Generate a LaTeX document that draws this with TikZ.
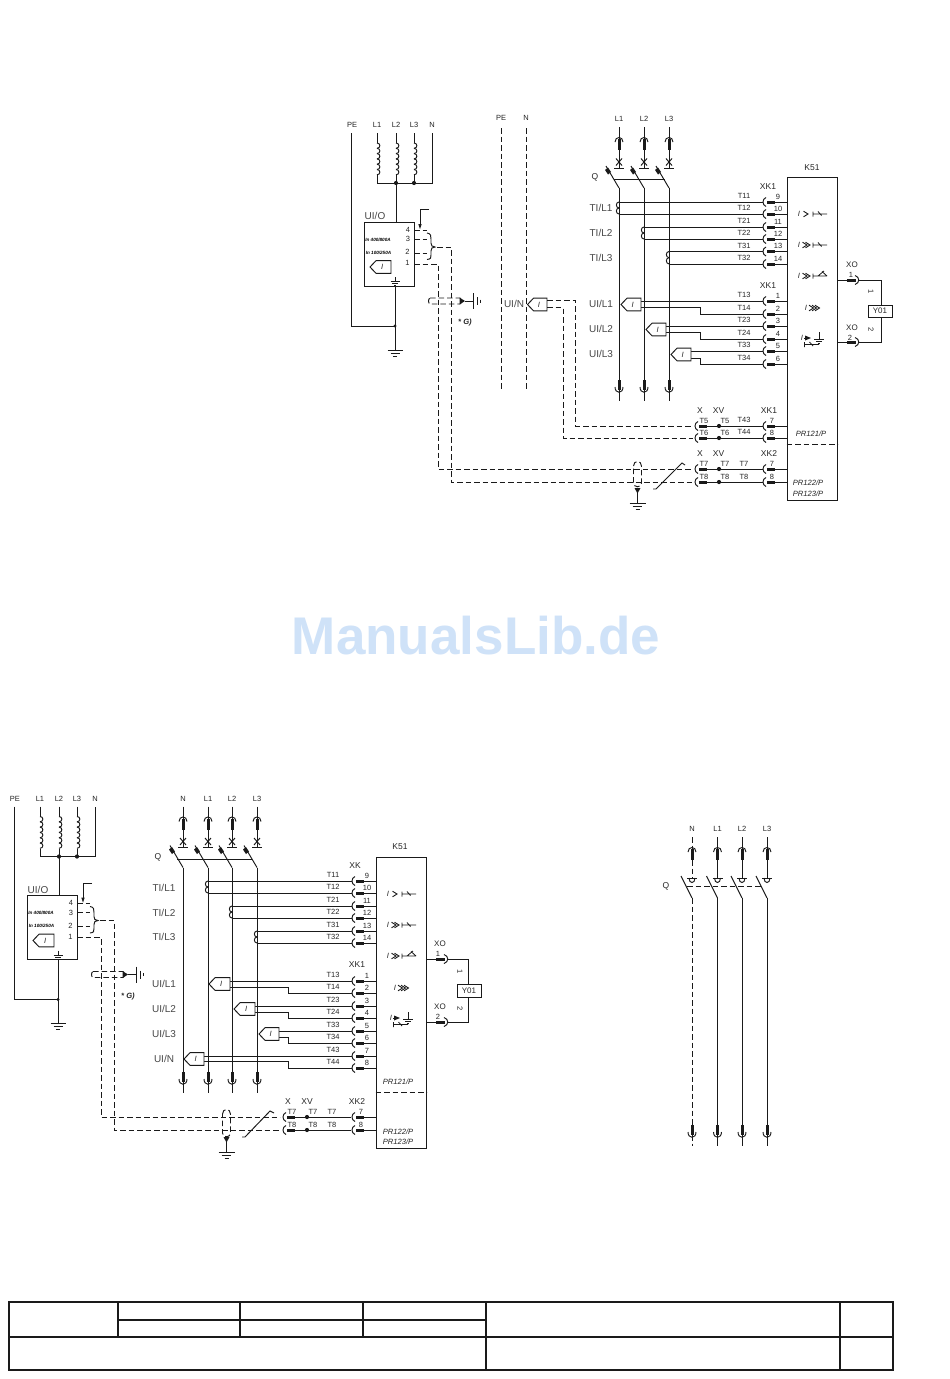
\documentclass[tikz,border=0pt]{standalone}
\usepackage{fontspec}
\setmainfont{Liberation Sans}
\definecolor{ink}{HTML}{1A1A1A}
\definecolor{txt}{HTML}{262626}
\definecolor{wm}{HTML}{CFE2F8}
\newcounter{nn}
\tikzset{
  wire/.style={draw=ink,line width=0.95pt},
  dwire/.style={draw=ink,line width=0.95pt,dash pattern=on 5.5pt off 3pt},
  thin wire/.style={draw=ink,line width=0.8pt},
  lab/.style={inner sep=0pt,text=txt,font=\fontsize{7.5}{7.5}\selectfont},
  labm/.style={inner sep=0pt,text=txt,font=\fontsize{8.5}{8.5}\selectfont},
  labb/.style={inner sep=0pt,text=txt!85,font=\fontsize{10}{10}\selectfont},
  labi/.style={inner sep=0pt,text=txt,font=\fontsize{7.6}{7.6}\selectfont\itshape},
  labt/.style={inner sep=0pt,text=black,font=\fontsize{4.6}{4.6}\selectfont\bfseries\itshape},
  boxn/.style={draw=ink,line width=1pt,inner sep=0pt,fill=white},
  sheet/.style={draw=ink,line width=1.9pt},
  sheetb/.style={draw=ink,line width=1.4pt},
}
% text node with an automatic name
\newcommand{\tx}[3]{\stepcounter{nn}\node[#1] (t\thenn) at (#2) {#3};}
% thick connector bars
\newcommand{\barH}[3]{\fill[ink] (#1,#2-1.5) rectangle (#3,#2+1.5);}
\newcommand{\barV}[3]{\fill[ink] (#1-1.5,#2) rectangle (#1+1.5,#3);}
% dot
\newcommand{\jd}[2]{\fill[ink] (#1,#2) circle (2.1pt);}
% coil: x, ytop, bump height, number of bumps, bulge (+right / -left)
\newcommand{\coil}[5]{\foreach \ci in {1,...,#4}{%
  \pgfmathsetmacro{\ya}{#2+(\ci-1)*#3}\pgfmathsetmacro{\yb}{#2+\ci*#3}%
  \draw[wire] (#1,\ya) .. controls (#1+#5,\ya) and (#1+#5,\yb) .. (#1,\yb);}}
% pentagon sensor: tip x, y, right x
\newcommand{\penta}[3]{%
  \draw[wire,fill=white] (#1,#2) -- (#1+6,#2-6.3) -- (#3,#2-6.3) -- (#3,#2+6.3) -- (#1+6,#2+6.3) -- cycle;
  \tx{labi}{#1+0.58*#3-0.58*#1,#2}{I}}
% terminal on a K51 input: arc x, y, from x, T label, number, number offset, box
\newcommand{\term}[7]{%
  \draw[wire] (#3,#2) -- (#1,#2);
  \draw[wire] (#1+3,#2-4.5) .. controls (#1-1,#2-3) and (#1-1,#2+3) .. (#1+3,#2+4.5);
  \barH{#1+4}{#2}{#1+12}
  \draw[wire] (#1+12,#2) -- (#7.west |- 0,#2);
  \tx{lab}{#1-19,#2-6}{#4}
  \tx{lab}{#1+#6,#2-5.5}{#5}}
% X terminal followed by XV dot
\newcommand{\xterm}[5]{%
  \draw[wire] (#1+3,#2-4.5) .. controls (#1-1,#2-3) and (#1-1,#2+3) .. (#1+3,#2+4.5);
  \barH{#1+4}{#2}{#1+12}
  \draw[wire] (#1+12,#2) -- (#1+68,#2);
  \jd{#1+24}{#2}
  \tx{lab}{#1+9,#2-5.5}{#3}
  \tx{lab}{#1+30,#2-5.5}{#4}
  \tx{lab}{#1+49,#2-5.5}{#5}}
% pole top: x, dy, label, style
\newcommand{\poleTop}[4]{%
  \tx{lab}{#1,#2+119}{#3}
  \draw[#4] (#1,#2+127) -- (#1,#2+139);
  \draw[wire] (#1-4,#2+142) .. controls (#1-4,#2+136) and (#1+4,#2+136) .. (#1+4,#2+142);
  \barV{#1}{#2+139}{#2+150}
  \draw[#4] (#1,#2+150) -- (#1,#2+168);}
\newcommand{\contactX}[2]{%
  \draw[wire] (#1-3,#2+158.5) -- (#1+3,#2+165.5) (#1-3,#2+165.5) -- (#1+3,#2+158.5);
  \draw[wire] (#1-5,#2+168) -- (#1+5,#2+168);
  \fill[ink] (#1-14,#2+170) -- (#1-11,#2+167.5) -- (#1-8,#2+172) -- (#1-11,#2+174.5) -- cycle;
  \draw[wire] (#1-13,#2+166) -- (#1,#2+188);}
\newcommand{\contactC}[2]{%
  \draw[wire] (#1-5,#2+168) -- (#1+5,#2+168);
  \draw[wire] (#1-3,#2+168) .. controls (#1-3,#2+174) and (#1+3,#2+174) .. (#1+3,#2+168);
  \draw[wire] (#1-11,#2+166) -- (#1,#2+188);}
% pole bottom: x, y from, y thick, style
\newcommand{\poleBot}[4]{%
  \draw[#4] (#1,#2) -- (#1,#3);
  \barV{#1}{#3}{#3+10}
  \draw[wire] (#1-4,#3+7) .. controls (#1-4,#3+14) and (#1+4,#3+14) .. (#1+4,#3+7);
  \draw[#4] (#1,#3+10) -- (#1,#3+21);}
% protection symbols
\newcommand{\chev}[2]{\draw[wire,line width=0.9pt] (#1,#2-2.8) -- (#1+4.5,#2) -- (#1,#2+2.8);}
\newcommand{\prI}[2]{\tx{labi}{#1,#2}{I}}
\newcommand{\cnt}[2]{%
  \draw[thin wire] (#1,#2-2.5) -- (#1,#2+2.5) (#1,#2) -- (#1+14,#2) (#1+5,#2-2.5) -- (#1+8.5,#2+1.5);}
\newcommand{\gnd}[4]{%
  \draw[wire] (#1-#4,#2) -- (#1+#4,#2);
  \draw[wire] (#1-0.6*#4,#2+#3) -- (#1+0.6*#4,#2+#3);
  \draw[wire] (#1-0.25*#4,#2+2*#3) -- (#1+0.25*#4,#2+2*#3);}
\newcommand{\protset}[3]{%
  \begin{scope}[shift={(#1,#2)}]
  \prI{799}{214}\chev{803.5}{214}\cnt{813}{214}
  \prI{799}{245}\chev{802.5}{245}\chev{805.5}{245}\cnt{813}{245}
  \prI{799}{276}\chev{802.5}{276}\chev{805.5}{276}
  \draw[thin wire] (813,273.5) -- (813,278.5) (813,276) -- (827,276) (818,276) -- (824,271) (822,271.5)--(827,276);
  \prI{806}{308}\chev{809}{308}\chev{812}{308}\chev{815}{308}
  \prI{802}{338}\fill[ink] (805,335.5) -- (811,338) -- (805,340.5) -- cycle; \draw[thin wire] (804,338)--(806,338);
  \draw[thin wire] (819,332) -- (819,339); \gnd{819}{339.5}{2}{5}
  \draw[thin wire] (804.5,342) -- (804.5,347) (804.5,344.5) -- (819,344.5) (809.5,342) -- (813,346);
  \end{scope}}
% source block
\newcommand{\source}{%
  \tx{lab}{352,125}{PE}
  \tx{lab}{377,125}{L1}\tx{lab}{396,125}{L2}\tx{lab}{414,125}{L3}\tx{lab}{432,125}{N}
  \draw[wire] (351,133) -- (351,326) -- (395,326);
  \foreach \cx in {377,396,414}{
    \draw[wire] (\cx,133) -- (\cx,143);
    \coil{\cx}{143}{5.3}{6}{3.8}
    \draw[wire] (\cx,175) -- (\cx,183);}
  \draw[wire] (377,183) -- (432,183) -- (432,133);
  \jd{396}{183}\jd{414}{183}
  \stepcounter{nn}
  \node[boxn,minimum width=50pt,minimum height=64pt] (ct\thenn) at (389,254) {};
  \draw[wire] (396,183) -- (ct\thenn.north -| 396,0);
  \draw[wire] (ct\thenn.south -| 395,0) -- (395,350);
  \fill[ink] (395,326) circle (1.6pt);
  \gnd{395}{350}{3}{7.5}
  \draw[wire] (395,277) -- (395,281.5);
  \gnd{395}{281.5}{2.2}{4.5}
  \tx{labb}{375,216}{UI/O}
  \tx{lab}{408,229.5}{4}\tx{lab}{408,239}{3}\tx{lab}{407.5,252}{2}\tx{lab}{407.5,263}{1}
  \tx{labt}{378,239.5}{In 400/800A}\tx{labt}{378.5,252.5}{In 100/250A}
  \penta{370}{267}{391}
  \draw[dwire] (414,230) -- (427,230);
  \draw[dwire] (414,239) -- (427,239);
  \draw[dwire] (414,253) -- (427,253);
  \draw[wire] (429,209.5) -- (420,209.5) -- (420,224);
  \fill[ink] (418.3,224) -- (421.7,224) -- (420,229) -- cycle;
  \draw[wire] (427,233) .. controls (431,233.5) and (431,236) .. (431,239) -- (431,243) .. controls (431,245.5) and (432,247) .. (435,247)
     .. controls (432,247) and (431,248.5) .. (431,251) -- (431,255) .. controls (431,258) and (431,259) .. (427,259.5);
  \draw[dwire] (430,298) -- (460,298) .. controls (462,299) and (462,303) .. (460,304) -- (430,304)
     .. controls (428,303) and (428,299) .. (430,298);
  \fill[ink] (459.5,297.5) -- (465,301) -- (459.5,304.5) -- cycle;
  \draw[wire] (465,301) -- (473,301);
  \draw[wire] (473,293) -- (473,309);
  \draw[wire] (477.5,297) -- (477.5,305);
  \draw[wire] (480.5,299.5) -- (480.5,302.5);
  \tx{labi}{465,323}{\bfseries * G)}}
\begin{document}
\begin{tikzpicture}[x=1pt,y=-1pt]
\useasboundingbox (0,0) rectangle (950,1379);
\fill[white] (0,0) rectangle (950,1379);

% === watermark
\node[inner sep=0pt,text=wm,font=\fontsize{53}{53}\selectfont\bfseries] (wmark) at (476,636) {ManualsLib.de};

% === top source block
\source
\draw[dwire] (414,264) -- (438,264) -- (438,469) -- (693,469);
\draw[dwire] (437,247) -- (451,247) -- (451,482) -- (693,482);

% === PE / N dashed lines
\tx{lab}{501,118}{PE}\tx{lab}{526,118}{N}
\draw[dwire] (501.5,128) -- (501.5,389);
\draw[dwire] (526.5,128) -- (526.5,389);
\tx{labb}{514,304}{UI/N}
\penta{527.5}{304.5}{547}
\draw[dwire] (547,300.5) -- (575.5,300.5) -- (575.5,426) -- (693,426);
\draw[dwire] (547,307.5) -- (563,307.5) -- (563,438) -- (693,438);

% === top right poles
\foreach \px/\pl in {619/L1,644/L2,669/L3}{
  \poleTop{\px}{0}{\pl}{wire}
  \contactX{\px}{0}
  \poleBot{\px}{188}{380}{wire}}
\draw[wire] (614,179) -- (665,179);
\tx{labm}{595,177}{Q}

% === K51 top
\node[boxn,minimum width=50pt,minimum height=323pt] (ka) at (812,338.5) {};
\tx{lab}{812,168}{\fontsize{8.5}{8.5}\selectfont K51}
\draw[wire,dash pattern=on 5.5pt off 3pt] (ka.west |- 0,444) -- (ka.east |- 0,444);
\coil{619}{202}{6}{2}{-3.5}
\coil{644}{227}{6}{2}{-3.5}
\coil{669}{251.5}{6.2}{2}{-3.5}
\tx{labb}{601,208}{TI/L1}\tx{labb}{601,233}{TI/L2}\tx{labb}{601,258}{TI/L3}
\tx{labm}{768,187}{XK1}\tx{labm}{768,286}{XK1}
\term{763}{202}{619}{T11}{9}{15}{ka}
\term{763}{214}{619}{T12}{10}{15}{ka}
\term{763}{227}{644}{T21}{11}{15}{ka}
\term{763}{239}{644}{T22}{12}{15}{ka}
\term{763}{251.5}{669}{T31}{13}{15}{ka}
\term{763}{264}{669}{T32}{14}{15}{ka}
\tx{labb}{601,304}{UI/L1}\tx{labb}{601,329}{UI/L2}\tx{labb}{601,354}{UI/L3}
\term{763}{301}{641}{T13}{1}{15}{ka}
\term{763}{314}{700}{T14}{2}{15}{ka}
\draw[wire] (641,307) -- (700,307) -- (700,314);
\term{763}{326}{666}{T23}{3}{15}{ka}
\term{763}{339}{700}{T24}{4}{15}{ka}
\draw[wire] (666,332) -- (700,332) -- (700,339);
\term{763}{351}{691}{T33}{5}{15}{ka}
\term{763}{364}{700}{T34}{6}{15}{ka}
\draw[wire] (691,358) -- (700,358) -- (700,364);
\penta{621}{304.5}{641}
\penta{646}{329.5}{666}
\penta{671}{354.5}{691}
\tx{labm}{700,411}{X}\tx{labm}{718.5,411}{XV}\tx{labm}{769,411}{XK1}
\tx{labm}{700,454}{X}\tx{labm}{718.5,454}{XV}\tx{labm}{769,454}{XK2}
\xterm{695}{426}{T5}{T5}{}
\xterm{695}{438}{T6}{T6}{}
\xterm{695}{469}{T7}{T7}{T7}
\xterm{695}{482}{T8}{T8}{T8}
\term{763}{426}{763}{T43}{7}{9}{ka}
\term{763}{438}{763}{T44}{8}{9}{ka}
\term{763}{469}{763}{}{7}{9}{ka}
\term{763}{482}{763}{}{8}{9}{ka}
\tx{labi}{811,434}{PR121/P}\tx{labi}{808,483}{PR122/P}\tx{labi}{808,493.5}{PR123/P}
\protset{0}{0}{}
% trip coil
\stepcounter{nn}
\node[boxn,minimum width=24pt,minimum height=12pt,text=txt,font=\fontsize{8}{8}\selectfont] (ya) at (880,311) {Y01};
\draw[wire] (ka.east |- 0,280) -- (847,280);
\barH{847}{280}{856}
\draw[wire] (855,275.5) .. controls (860,277) and (860,283) .. (855,284.5);
\draw[wire] (859,280) -- (881,280) -- (ya.north -| 881,0);
\draw[wire] (ka.east |- 0,342) -- (847,342);
\barH{847}{342}{856}
\draw[wire] (855,337.5) .. controls (860,339) and (860,345) .. (855,346.5);
\draw[wire] (859,342) -- (881,342) -- (ya.south -| 881,0);
\tx{lab}{852,265}{\fontsize{8}{8}\selectfont XO}\tx{lab}{851,275}{1}
\tx{lab}{852,328}{\fontsize{8}{8}\selectfont XO}\tx{lab}{850,337.5}{2}
\tx{lab,rotate=-90}{871,292}{1}\tx{lab,rotate=-90}{871,330}{2}
% tick + shield top
\draw[wire] (653,489) -- (656,489) -- (682,463) -- (685,465);
\draw[dwire] (633.5,466) .. controls (633.5,460) and (641.5,460) .. (641.5,466) -- (641.5,483) .. controls (641.5,488) and (633.5,488) .. (633.5,483) -- cycle;
\fill[ink] (634.5,488) -- (640.5,488) -- (637.5,493.5) -- cycle;
\draw[wire] (637.5,492) -- (637.5,503);
\gnd{637.5}{503}{3}{8}

% === bottom-left source
\begin{scope}[shift={(-337,673.5)}]
\source
\end{scope}
\draw[dwire] (77,937.5) -- (101,937.5) -- (101,1117) -- (280,1117);
\draw[dwire] (100,920.5) -- (114,920.5) -- (114,1130) -- (280,1130);

% === bottom middle poles
\foreach \px/\pl in {183/N,208/L1,232/L2,257/L3}{
  \poleTop{\px}{679.5}{\pl}{wire}
  \contactX{\px}{679.5}
  \poleBot{\px}{867.5}{1072}{wire}}
\draw[wire] (177,859) -- (252,859);
\tx{labm}{158,857}{Q}
\node[boxn,minimum width=50pt,minimum height=291pt] (kb) at (401,1002.5) {};
\tx{lab}{400,847}{\fontsize{8.5}{8.5}\selectfont K51}
\draw[wire,dash pattern=on 5.5pt off 3pt] (kb.west |- 0,1092) -- (kb.east |- 0,1092);
\coil{208}{881}{6}{2}{-3.5}
\coil{232}{906}{6}{2}{-3.5}
\coil{257}{931}{6}{2}{-3.5}
\tx{labb}{164,888}{TI/L1}\tx{labb}{164,913}{TI/L2}\tx{labb}{164,937}{TI/L3}
\tx{labm}{355,866}{XK}\tx{labm}{357,965}{XK1}
\term{352}{881}{208}{T11}{9}{15}{kb}
\term{352}{893}{208}{T12}{10}{15}{kb}
\term{352}{906}{232}{T21}{11}{15}{kb}
\term{352}{918}{232}{T22}{12}{15}{kb}
\term{352}{931}{257}{T31}{13}{15}{kb}
\term{352}{943}{257}{T32}{14}{15}{kb}
\tx{labb}{164,984}{UI/L1}\tx{labb}{164,1009}{UI/L2}\tx{labb}{164,1034}{UI/L3}\tx{labb}{164,1059}{UI/N}
\term{352}{981}{230}{T13}{1}{15}{kb}
\term{352}{993}{288}{T14}{2}{15}{kb}
\draw[wire] (230,987) -- (288,987) -- (288,993);
\term{352}{1006}{255}{T23}{3}{15}{kb}
\term{352}{1018}{288}{T24}{4}{15}{kb}
\draw[wire] (255,1012) -- (288,1012) -- (288,1018);
\term{352}{1031}{279}{T33}{5}{15}{kb}
\term{352}{1043}{288}{T34}{6}{15}{kb}
\draw[wire] (279,1037) -- (288,1037) -- (288,1043);
\term{352}{1056}{204}{T43}{7}{15}{kb}
\term{352}{1068}{288}{T44}{8}{15}{kb}
\draw[wire] (204,1061.5) -- (288,1061.5) -- (288,1068);
\penta{209}{984}{230}
\penta{234}{1009}{255}
\penta{259}{1034}{279}
\penta{184}{1059}{204}
\tx{labm}{288,1102}{X}\tx{labm}{307,1102}{XV}\tx{labm}{357,1102}{XK2}
\xterm{283}{1117}{T7}{T7}{T7}
\xterm{283}{1130}{T8}{T8}{T8}
\term{352}{1117}{352}{}{7}{9}{kb}
\term{352}{1130}{352}{}{8}{9}{kb}
\tx{labi}{398,1082}{PR121/P}\tx{labi}{398,1132}{PR122/P}\tx{labi}{398,1142}{PR123/P}
\protset{-411}{680}{}
\stepcounter{nn}
\node[boxn,minimum width=24pt,minimum height=13pt,text=txt,font=\fontsize{8}{8}\selectfont] (yb) at (469,990.5) {Y01};
\draw[wire] (kb.east |- 0,959) -- (436,959);
\barH{436}{959}{445}
\draw[wire] (444,954.5) .. controls (449,956) and (449,962) .. (444,963.5);
\draw[wire] (448,959) -- (468,959) -- (yb.north -| 468,0);
\draw[wire] (kb.east |- 0,1022) -- (436,1022);
\barH{436}{1022}{445}
\draw[wire] (444,1017.5) .. controls (449,1019) and (449,1025) .. (444,1026.5);
\draw[wire] (448,1022) -- (468,1022) -- (yb.south -| 468,0);
\tx{lab}{440,944}{\fontsize{8}{8}\selectfont XO}\tx{lab}{438,954}{1}
\tx{lab}{440,1007}{\fontsize{8}{8}\selectfont XO}\tx{lab}{438,1017}{2}
\tx{lab,rotate=-90}{460,972}{1}\tx{lab,rotate=-90}{460,1009}{2}
\draw[wire] (242,1137) -- (245,1137) -- (270,1111) -- (274,1113);
\draw[dwire] (222.5,1114) .. controls (222.5,1108) and (230.5,1108) .. (230.5,1114) -- (230.5,1133) .. controls (230.5,1138) and (222.5,1138) .. (222.5,1133) -- cycle;
\fill[ink] (223.5,1137) -- (229.5,1137) -- (226.5,1142.5) -- cycle;
\draw[wire] (226.5,1141) -- (226.5,1152);
\gnd{226.5}{1152}{3}{8}

% === right diagram
\poleTop{692}{710}{N}{dwire}
\contactC{692}{710}
\poleBot{692}{898}{1125}{dwire}
\foreach \px/\pl in {717.5/L1,742/L2,767/L3}{
  \poleTop{\px}{710}{\pl}{wire}
  \contactC{\px}{710}
  \poleBot{\px}{898}{1125}{wire}}
\draw[dwire] (687,886) -- (762,886);
\tx{labm}{666,886}{Q}

% === title block
\draw[sheet] (9,1302) rectangle (893,1370);
\draw[sheet] (9,1337) -- (893,1337);
\draw[sheet] (118,1320) -- (486,1320);
\foreach \vx in {118,240,363}{\draw[sheet] (\vx,1302) -- (\vx,1337);}
\draw[sheetb] (486,1302) -- (486,1370);
\draw[sheetb] (840,1302) -- (840,1370);
\end{tikzpicture}
\end{document}
